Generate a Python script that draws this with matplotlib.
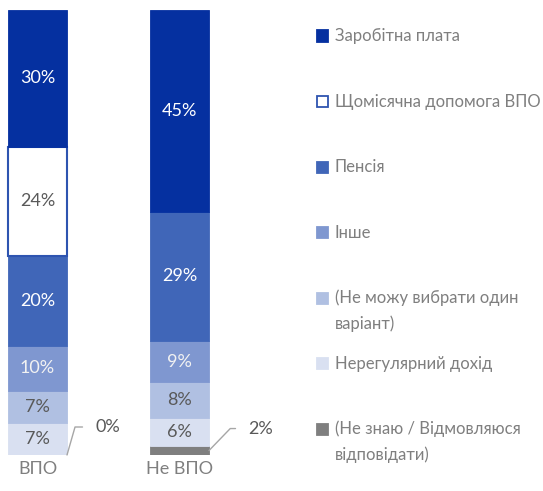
# Income sources: IDPs (ВПО) vs non-IDPs (Не ВПО), 100% stacked bars.

import matplotlib.pyplot as plt
from matplotlib.patches import Rectangle

plt.rcParams["font.family"] = ["Lato", "DejaVu Sans"]

GROUPS = ["ВПО", "Не ВПО"]

# bottom to top
CATEGORIES = [
    "(Не знаю / Відмовляюся\nвідповідати)",
    "Нерегулярний дохід",
    "(Не можу вибрати один\nваріант)",
    "Інше",
    "Пенсія",
    "Щомісячна допомога ВПО",
    "Заробітна плата",
]
COLORS = ["#7f7f7f", "#d9e0f1", "#b0c0e2", "#7f97d0", "#4066b8", "#ffffff", "#0530a0"]
TEXT_COLORS = [None, "#595959", "#595959", "#f2f2f2", "#ffffff", "#595959", "#ffffff"]

# segment heights (sum to 100 per bar)
VPO_SHARE = [0.1, 7.2, 7.0, 10.3, 20.2, 24.5, 30.7]
NON_VPO_SHARE = [2.0, 6.3, 8.1, 9.2, 29.1, 0.0, 45.3]
# printed labels
VPO_LABELS = [0, 7, 7, 10, 20, 24, 30]
NON_VPO_LABELS = [2, 6, 8, 9, 29, 0, 45]

W, H = 543, 491
fig = plt.figure(figsize=(W / 100, H / 100), dpi=100)
ax = fig.add_axes([0, 36 / H, 300 / W, 445 / H])

x = [0, 1]
width = 59 / 142
bottoms = [0.0, 0.0]
for i, cat in enumerate(CATEGORIES):
    vals = [VPO_SHARE[i], NON_VPO_SHARE[i]]
    labs = [VPO_LABELS[i], NON_VPO_LABELS[i]]
    if COLORS[i] == "#ffffff":
        edge, lw = "#2e54b0", [1.5 if v > 0 else 0 for v in vals]
    else:
        edge, lw = COLORS[i], [0.6 if v > 0 else 0 for v in vals]
    ax.bar(x, vals, width, bottom=bottoms, color=COLORS[i], edgecolor=edge,
           linewidth=lw)
    if TEXT_COLORS[i] is not None:
        for xi, v, b, lab in zip(x, vals, bottoms, labs):
            if v > 0:
                ax.text(xi, b + v / 2, f"{lab}%", ha="center", va="center",
                        fontsize=13, color=TEXT_COLORS[i])
    bottoms = [b + v for b, v in zip(bottoms, vals)]

# small bottom segment labels with leader lines
leaders = [(0.0, (28, 28), 74), (NON_VPO_SHARE[0] / 2, (39, 22), 46)]
for xi, lab, (ya, off, ang) in zip(x, [VPO_LABELS[0], NON_VPO_LABELS[0]], leaders):
    ax.annotate(f"{lab}%", xy=(xi + width / 2, ya), xytext=off,
                textcoords="offset pixels", va="center", ha="left",
                fontsize=13, color="#595959",
                arrowprops=dict(arrowstyle="-", color="#a6a6a6", lw=1,
                                shrinkA=7, shrinkB=0,
                                connectionstyle=f"angle,angleA=0,angleB={ang},rad=0"))

ax.set_xlim(-37.5 / 142, 262.5 / 142)
ax.set_ylim(0, 100)
ax.set_xticks(x)
ax.set_xticklabels(GROUPS, fontsize=13, color="#7f7f7f")
ax.tick_params(axis="x", length=0, pad=4)
ax.set_yticks([])
for s in ax.spines.values():
    s.set_visible(False)

# legend, top to bottom
for k, i in enumerate(reversed(range(len(CATEGORIES)))):
    yc = 36 + 65.5 * k
    fig.patches.append(Rectangle((317 / W, 1 - (yc + 5.5) / H), 11 / W, 11 / H,
                                 transform=fig.transFigure, facecolor=COLORS[i],
                                 edgecolor="#2e54b0" if COLORS[i] == "#ffffff" else COLORS[i],
                                 linewidth=1.3))
    for j, line in enumerate(CATEGORIES[i].split("\n")):
        fig.text(335 / W, 1 - (yc + 26 * j) / H, line, ha="left", va="center",
                 fontsize=12, color="#7f7f7f")

fig.savefig("out.png", dpi=100)
